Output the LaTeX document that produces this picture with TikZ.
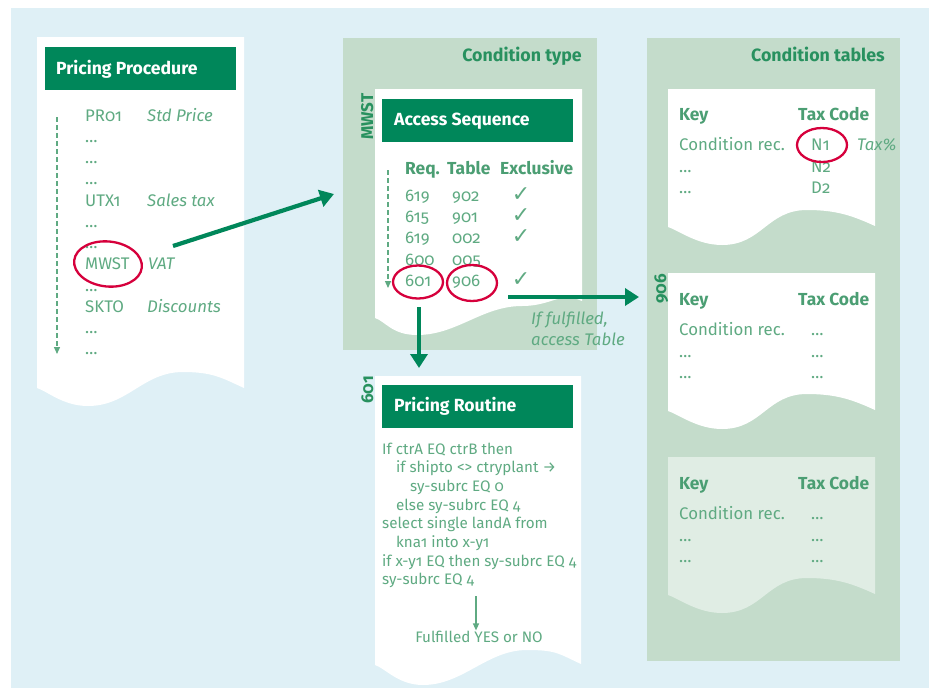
\documentclass[tikz,border=0pt]{standalone}
\usepackage{fontspec}
\setmainfont{Fira Sans}[Numbers=OldStyle]
\newfontfamily\symfont{DejaVu Sans}
\usetikzlibrary{arrows.meta,shapes.geometric}

\definecolor{bgblue}{HTML}{DFF0F6}
\definecolor{panelgreen}{HTML}{C4DCCB}
\definecolor{paleleaf}{HTML}{E0EDE4}
\definecolor{hdrgreen}{HTML}{00875A}
\definecolor{txtgreen}{HTML}{5FAA82}
\definecolor{headgreen}{HTML}{4B9E73}
\definecolor{titlegreen}{HTML}{28915F}
\definecolor{markred}{HTML}{D6003C}

% paper sheet with a wavy lower edge:
% #1 x-left, #2 y-top, #3 x-right, #4 y at left corner, (#5,#6) trough, (#7,#8) crest, #9 y at right corner
\newcommand\paperpath[9]{(#1,#2) -- (#3,#2) -- (#3,#9)
  .. controls (#3-22,#9-10) and (#7+30,#8) .. (#7,#8)
  .. controls (#7-40,#8) and (#5+40,#6) .. (#5,#6)
  .. controls (#5-25,#6) and (#1+10,#4+3) .. (#1,#4) -- cycle}

\tikzset{
  body/.style={text=txtgreen, font=\fontsize{16.8}{19}\selectfont, anchor=base west, inner sep=0pt},
  bodyit/.style={body, font=\fontsize{16.8}{19}\selectfont\itshape},
  colhead/.style={body, text=headgreen, font=\fontsize{17.4}{19}\selectfont\bfseries},
  code/.style={body, font=\fontsize{15.2}{17}\selectfont},
  paneltitle/.style={text=titlegreen, font=\fontsize{17.8}{19}\selectfont\bfseries, anchor=base east, inner sep=0pt},
  sidelabel/.style={text=titlegreen, font=\fontsize{17}{19}\selectfont\bfseries, rotate=90, anchor=base west, inner sep=0pt},
  hdrbox/.style={fill=hdrgreen, draw=none, anchor=north west, inner sep=0pt},
  hdrtext/.style={text=white, font=\fontsize{17.6}{19}\selectfont\bfseries, anchor=base west, inner sep=0pt},
  tick/.style={text=txtgreen, font=\symfont\fontsize{22}{22}\selectfont, anchor=base, inner sep=0pt},
  ring/.style={ellipse, draw=markred, line width=2.3pt, inner sep=0pt},
  flow/.style={draw=hdrgreen, line width=4.2pt, -{Triangle[length=14pt,width=17pt]}},
  dasharrow/.style={draw=txtgreen, line width=1.3pt, dash pattern=on 5pt off 3pt, -{Triangle[length=7pt,width=6pt]}},
  thinarrow/.style={draw=txtgreen, line width=1.3pt, -{Triangle[length=7pt,width=6pt]}},
}

\begin{document}
\begin{tikzpicture}[x=1pt,y=-1pt]
\useasboundingbox (0,0) rectangle (929,689);
\fill[bgblue] (11,8) rectangle (929,688);

% ---------- Pricing procedure sheet ----------
\fill[white] \paperpath{37}{37}{244}{388}{88}{406}{183}{372}{388};
\node[hdrbox, minimum width=191pt, minimum height=43pt] (pphdr) at (45,47) {};
\node[hdrtext] (pptitle) at (56,74) {Pricing Procedure};

\node[body]   (pr01)  at (85,121)    {PR01};
\node[bodyit] (stdp)  at (147,121)   {Std Price};
\node[body]   (ppd1)  at (85,142.25) {…};
\node[body]   (ppd2)  at (85,163.5)  {…};
\node[body]   (ppd3)  at (85,184.75) {…};
\node[body]   (utx1)  at (85,206)    {UTX1};
\node[bodyit] (stax)  at (147,206)   {Sales tax};
\node[body]   (ppd4)  at (85,227.25) {…};
\node[body]   (ppd5)  at (85,248.5)  {…};
\node[body]   (mwst)  at (85,269.75) {MWST};
\node[bodyit] (vat)   at (148,269.75){VAT};
\node[body]   (ppd6)  at (85,291)    {…};
\node[body]   (skto)  at (85,312.25) {SKTO};
\node[bodyit] (disc)  at (147,312.25){Discounts};
\node[body]   (ppd7)  at (85,333.5)  {…};
\node[body]   (ppd8)  at (85,354.75) {…};
\node[ring, minimum width=68pt, minimum height=45pt, rotate=-6] (mwstring) at (108,264) {};

\coordinate (ppscanA) at (57,117);
\coordinate (ppscanB) at (57,354);
\draw[dasharrow] (ppscanA) -- (ppscanB);

% ---------- Condition type panel ----------
\fill[panelgreen] (343,38) rectangle (597,350);
\node[paneltitle] (cttitle) at (582,61) {Condition type};
\fill[white] \paperpath{375}{89}{582}{318}{417}{335}{522}{306}{301};
\node[sidelabel] (ctlabel) at (373,140) {MWST};
\node[hdrbox, minimum width=191pt, minimum height=43pt] (ashdr) at (382,99) {};
\node[hdrtext] (astitle) at (394,125) {Access Sequence};

\node[colhead] (hreq)  at (405,174) {Req.};
\node[colhead] (htab)  at (447,174) {Table};
\node[colhead] (hexc)  at (500,174) {Exclusive};

\node[body] (r1a) at (405,201)   {619};
\node[body] (r1b) at (452,201)   {902};
\node[tick] (r1c) at (521,201)   {✓};
\node[body] (r2a) at (405,222)   {615};
\node[body] (r2b) at (452,222)   {901};
\node[tick] (r2c) at (521,222)   {✓};
\node[body] (r3a) at (405,243.5) {619};
\node[body] (r3b) at (452,243.5) {002};
\node[tick] (r3c) at (521,243.5) {✓};
\node[body] (r4a) at (405,265)   {600};
\node[body] (r4b) at (452,265)   {005};
\node[body] (r5a) at (405,286)   {601};
\node[body] (r5b) at (452,286)   {906};
\node[tick] (r5c) at (521,286)   {✓};
\node[ring, minimum width=50pt, minimum height=33pt] (ring601) at (418,282) {};
\node[ring, minimum width=50pt, minimum height=36pt] (ring906) at (472,283) {};

\coordinate (asscanA) at (388,170);
\coordinate (asscanB) at (388,288);
\draw[dasharrow] (asscanA) -- (asscanB);

% ---------- Pricing routine sheet ----------
\fill[white] \paperpath{375}{376}{581}{665}{423}{685}{527}{650}{664};
\node[sidelabel] (prlabel) at (373,404) {601};
\node[hdrbox, minimum width=191pt, minimum height=43pt] (prhdr) at (382,385) {};
\node[hdrtext] (prtitle) at (394,411) {Pricing Routine};

\node[code] (c1) at (382,454)   {If ctrA EQ ctrB then};
\node[code] (c2) at (396,472.7) {if shipto <> ctryplant →};
\node[code] (c3) at (410,491.4) {sy-subrc EQ 0};
\node[code] (c4) at (396,510.1) {else sy-subrc EQ 4};
\node[code] (c5) at (382,528.8) {select single landA from};
\node[code] (c6) at (396,547.5) {kna1 into x-y1};
\node[code] (c7) at (382,566.2) {if x-y1 EQ then sy-subrc EQ 4};
\node[code] (c8) at (382,584.9) {sy-subrc EQ 4};
\node[code, anchor=base] (result) at (479,642) {Fulfilled YES or NO};
\coordinate (evalA) at (476,596);
\draw[thinarrow] (evalA) -- (result.north -| evalA);

% ---------- Condition tables panel ----------
\fill[panelgreen] (647,38) rectangle (900,661);
\node[paneltitle] (cttabtitle) at (885,61) {Condition tables};

% table 1
\fill[white] \paperpath{668}{89}{875}{227}{722}{245}{807}{210}{226};
\node[colhead] (k1)   at (679,120) {Key};
\node[colhead] (tc1)  at (798,120) {Tax Code};
\node[body]    (cr1)  at (679,150) {Condition rec.};
\node[body]    (n1)   at (811,150) {N1};
\node[bodyit]  (tax)  at (857,150) {Tax\%};
\node[body]    (t1d1) at (679,172) {…};
\node[body]    (n2)   at (811,172) {N2};
\node[body]    (t1d2) at (679,193) {…};
\node[body]    (d2)   at (811,193) {D2};
\node[ring, minimum width=50pt, minimum height=34pt] (ringn1) at (822,145) {};

% table 2 (906)
\fill[white] \paperpath{668}{273}{875}{411}{722}{429}{807}{394}{410};
\node[sidelabel] (tablabel) at (666,304) {906};
\node[colhead] (k2)   at (679,305) {Key};
\node[colhead] (tc2)  at (798,305) {Tax Code};
\node[body]    (cr2)  at (679,335) {Condition rec.};
\node[body]    (v21)  at (811,335) {…};
\node[body]    (t2d1) at (679,357) {…};
\node[body]    (v22)  at (811,357) {…};
\node[body]    (t2d2) at (679,378) {…};
\node[body]    (v23)  at (811,378) {…};

% table 3
\fill[paleleaf] \paperpath{668}{457}{875}{595}{722}{613}{807}{578}{594};
\node[colhead] (k3)   at (679,489) {Key};
\node[colhead] (tc3)  at (798,489) {Tax Code};
\node[body]    (cr3)  at (679,519) {Condition rec.};
\node[body]    (v31)  at (811,519) {…};
\node[body]    (t3d1) at (679,541) {…};
\node[body]    (v32)  at (811,541) {…};
\node[body]    (t3d2) at (679,562) {…};
\node[body]    (v33)  at (811,562) {…};

% ---------- flow arrows ----------
\coordinate (fromvat) at (173,246);
\coordinate (intype)  at (334,194);
\draw[flow] (fromvat) -- (intype);

\coordinate (from906) at (508,297);
\coordinate (intable) at (639,297);
\draw[flow] (from906) -- (intable);
\node[bodyit] (iff1) at (531,324) {If fulfilled,};
\node[bodyit] (iff2) at (531,345) {access Table};

\coordinate (from601) at (419,307);
\coordinate (inroutine) at (419,368);
\draw[flow] (from601) -- (inroutine);
\end{tikzpicture}
\end{document}
